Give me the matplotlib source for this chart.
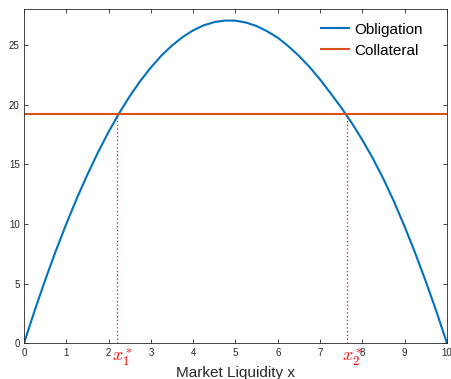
import numpy as np
import matplotlib
matplotlib.use('Agg')
import matplotlib.pyplot as plt

plt.rcParams['font.family'] = ['Liberation Sans', 'DejaVu Sans']
plt.rcParams['mathtext.fontset'] = 'cm'

# values
liquidity = [0, 0.25, 0.5, 0.75, 1.0, 1.25, 1.5, 1.75, 2.0, 2.25, 2.5,
             2.75, 3.0, 3.25, 3.5, 3.75, 4.0, 4.25, 4.5, 4.75, 5.0,
             5.25, 5.5, 5.75, 6.0, 6.25, 6.5, 6.75, 7.0, 7.25, 7.5,
             7.75, 8.0, 8.25, 8.5, 8.75, 9.0, 9.25, 9.5, 9.75, 10.0]
obligation = [0, 2.72, 5.29, 7.72, 10.0, 12.15, 14.14, 16.0, 17.71, 19.28, 20.70,
              21.98, 23.11, 24.11, 24.95, 25.66, 26.22, 26.64, 26.91, 27.04, 27.03,
              26.87, 26.58, 26.14, 25.60, 24.89, 24.08, 23.15, 22.10, 20.94, 19.75,
              18.45, 17.03, 15.47, 13.75, 11.85, 9.76, 7.54, 5.17, 2.66, 0]
collateral_x = [0, 10]
collateral = [19.2, 19.2]
crossings = [2.2, 7.64]
crossing_labels = [r'$x_1^*$', r'$x_2^*$']

blue = '#0072BD'
orange = '#D95319'
axcol = '#262626'

fig = plt.figure(figsize=(4.52, 3.79), dpi=100)
ax = fig.add_axes([0.053, 0.094, 0.936, 0.882])

ax.plot(liquidity, obligation, color=blue, lw=1.5, label='Obligation')
ax.plot(collateral_x, collateral, color=orange, lw=1.5, label='Collateral')
for xc in crossings:
    ax.plot([xc, xc], [0, collateral[0]], color='red', lw=0.9, ls=(0, (1, 2)))
for xc, lab in zip(crossings, crossing_labels):
    ax.text(xc + 0.12, -0.25, lab, color='red', fontsize=13,
            ha='center', va='top')

ax.set_xlim(0, 10)
ax.set_ylim(0, 28)
ax.set_xticks(np.arange(0, 11, 1))
ax.set_yticks(np.arange(0, 26, 5))
ax.tick_params(direction='in', top=True, right=True, labelsize=7,
               colors=axcol, length=3, width=0.6, pad=3)
for s in ax.spines.values():
    s.set_color(axcol)
    s.set_linewidth(0.6)
ax.set_xlabel('Market Liquidity x', fontsize=11, color=axcol, labelpad=6)

ax.legend(loc='upper right', frameon=False, fontsize=11, handlelength=1.85,
          handletextpad=0.35, labelspacing=0.45, borderaxespad=0.5,
          bbox_to_anchor=(0.975, 1.0))

fig.savefig('out.png', dpi=100)
